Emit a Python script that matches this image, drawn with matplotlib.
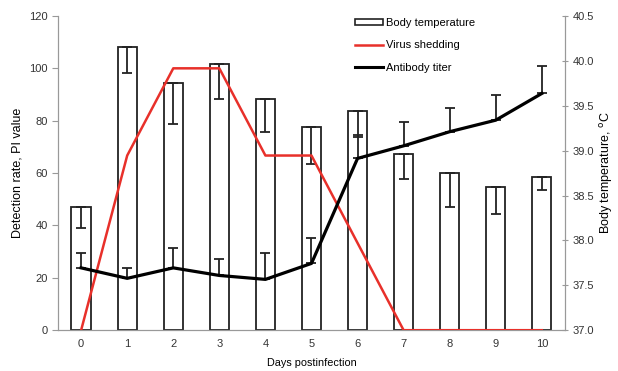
import matplotlib.pyplot as plt
import numpy as np
from matplotlib.patches import Patch
from matplotlib.lines import Line2D

plt.rcParams['font.family'] = ['Liberation Sans', 'DejaVu Sans']

# data
days = [0, 1, 2, 3, 4, 5, 6, 7, 8, 9, 10]
body_temp = [38.37, 40.15, 39.75, 39.96, 39.58, 39.26, 39.44, 38.96, 38.75, 38.60, 38.71]
body_temp_err = [0.23, 0.29, 0.45, 0.39, 0.37, 0.41, 0.29, 0.28, 0.38, 0.31, 0.15]
virus_shedding = [0, 66.7, 100, 100, 66.7, 66.7, 33.3, 0, 0, 0, 0]
antibody = [23.8, 19.8, 23.8, 20.9, 19.4, 25.5, 65.6, 70.4, 75.8, 80.2, 90.4]
antibody_err = [5.5, 4.0, 7.7, 6.1, 9.9, 9.7, 8.9, 9.2, 8.9, 9.6, 10.5]

fig = plt.figure(figsize=(6.18, 3.71), dpi=100)
ax = fig.add_axes([0.094, 0.11, 0.82, 0.847])
ax2 = ax.twinx()

# bars on the right axis (body temperature)
base = 37.0
heights = np.array(body_temp) - base
ax2.bar(days, heights, bottom=base, width=0.42, facecolor='white',
        edgecolor='#222222', linewidth=1.3, zorder=2)
ax2.errorbar(days, body_temp, yerr=[body_temp_err, np.zeros(len(days))],
             fmt='none', ecolor='#222222', elinewidth=1.3, capsize=3.5,
             capthick=1.3, zorder=3)
ax2.set_ylim(37.0, 40.5)
ax2.set_yticks(np.arange(37.0, 40.51, 0.5))
ax2.set_yticklabels(['%.1f' % v for v in np.arange(37.0, 40.51, 0.5)])
ax2.set_ylabel('Body temperature, $^{\\mathrm{o}}$C', fontsize=9, labelpad=3)

# lines on the left axis
ax.set_zorder(ax2.get_zorder() + 1)
ax.patch.set_visible(False)
ax.plot(days, virus_shedding, color='#e8302a', linewidth=1.8, zorder=4)
ax.errorbar(days, antibody, yerr=[np.zeros(len(days)), antibody_err],
            fmt='none', ecolor='#222222', elinewidth=1.3, capsize=3.5,
            capthick=1.3, zorder=3)
ax.plot(days, antibody, color='black', linewidth=2.3, zorder=5)
ax.set_ylim(0, 120)
ax.set_yticks(range(0, 121, 20))
ax.set_xlim(-0.5, 10.5)
ax.set_xticks(days)
ax.set_xlabel('Days postinfection', fontsize=7.8, labelpad=7)
ax.set_ylabel('Detection rate, PI value', fontsize=9, labelpad=4)

for a in (ax, ax2):
    for s in a.spines.values():
        s.set_color('#999999')
        s.set_linewidth(0.8)
    a.spines['top'].set_visible(False)
    a.tick_params(labelsize=8, colors='#333333', length=4, width=0.8)
ax.tick_params(axis='y', color='#999999')
ax.tick_params(axis='x', length=0, pad=6)
ax2.tick_params(axis='y', color='#999999', direction='inout')

handles = [Patch(facecolor='white', edgecolor='#222222', linewidth=1.2),
           Line2D([], [], color='#e8302a', linewidth=1.8),
           Line2D([], [], color='black', linewidth=2.2)]
labels = ['Body temperature', 'Virus shedding', 'Antibody titer']
leg = ax.legend(handles, labels, loc='upper left', bbox_to_anchor=(0.566, 1.025),
                frameon=False, fontsize=8, handlelength=2.5, handletextpad=0.3,
                labelspacing=1.1, handleheight=0.5)

fig.savefig('out.png', dpi=100)
